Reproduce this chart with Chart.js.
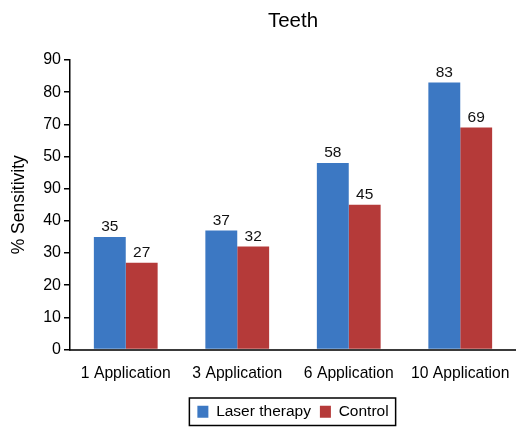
<!DOCTYPE html>
<html lang="en">
<head>
    <meta charset="UTF-8">
    <title>Teeth</title>
    <script src="https://cdn.jsdelivr.net/npm/chart.js"></script>
    <style>
        body {
            margin: 0;
            background-color: white;
        }
        #chartContainer {
            width: 516px;
            height: 430px;
        }
    </style>
</head>
<body>

<div id="chartContainer">
    <canvas id="teethChart" width="516" height="430"></canvas>
</div>

<script>
    const categories = ['1 Application', '3 Application', '6 Application', '10 Application'];
    const laserValues = [35, 37, 58, 83];
    const controlValues = [27, 32, 45, 69];
    // tick labels exactly as printed on the original figure
    const yTickLabels = ['0', '10', '20', '30', '40', '90', '50', '70', '80', '90'];

    const FONT = '"Liberation Sans", Arial, sans-serif';

    // numbers above the bars
    const valueLabels = {
        id: 'valueLabels',
        afterDatasetsDraw(chart) {
            const ctx = chart.ctx;
            ctx.save();
            ctx.font = '15.5px ' + FONT;
            ctx.fillStyle = '#111';
            ctx.textAlign = 'center';
            ctx.textBaseline = 'bottom';
            chart.data.datasets.forEach((ds, i) => {
                chart.getDatasetMeta(i).data.forEach((bar, j) => {
                    ctx.fillText(ds.data[j], bar.x, bar.y - 2);
                });
            });
            ctx.restore();
        }
    };

    // box round the legend
    const legendBorder = {
        id: 'legendBorder',
        afterDraw(chart) {
            const boxes = chart.legend.legendHitBoxes;
            if (!boxes || !boxes.length) return;
            let left = Infinity, right = -Infinity, top = Infinity, bottom = -Infinity;
            boxes.forEach(b => {
                left = Math.min(left, b.left);
                right = Math.max(right, b.left + b.width);
                top = Math.min(top, b.top);
                bottom = Math.max(bottom, b.top + b.height);
            });
            const ctx = chart.ctx;
            ctx.save();
            ctx.strokeStyle = '#000';
            ctx.lineWidth = 1.5;
            ctx.strokeRect(left - 8, top - 6, right - left + 15, bottom - top + 12);
            ctx.restore();
        }
    };

    new Chart(document.getElementById('teethChart'), {
        type: 'bar',
        data: {
            labels: categories,
            datasets: [
                {
                    label: 'Laser therapy',
                    data: laserValues,
                    backgroundColor: '#3C78C3',
                    barPercentage: 1,
                    categoryPercentage: 0.572
                },
                {
                    label: 'Control',
                    data: controlValues,
                    backgroundColor: '#B53A39',
                    barPercentage: 1,
                    categoryPercentage: 0.572
                }
            ]
        },
        options: {
            responsive: false,
            animation: false,
            layout: { padding: { left: 0, right: -5, top: 0, bottom: 0.5 } },
            plugins: {
                title: {
                    display: true,
                    fullSize: false,
                    text: 'Teeth',
                    color: '#000',
                    font: { family: FONT, size: 20.5, weight: 'normal' },
                    padding: { top: 9, bottom: 26.4 }
                },
                legend: {
                    position: 'bottom',
                    fullSize: false,
                    labels: {
                        color: '#000',
                        font: { family: FONT, size: 15.5 },
                        boxWidth: 11,
                        boxHeight: 12,
                        padding: 9
                    }
                },
                tooltip: { enabled: false }
            },
            scales: {
                x: {
                    grid: {
                        display: true,
                        drawOnChartArea: false,
                        drawTicks: true,
                        tickLength: 15,
                        color: 'rgba(0,0,0,0)'
                    },
                    border: { display: true, color: '#3a3a3a', width: 2 },
                    ticks: {
                        color: '#000',
                        font: { family: FONT, size: 15.7 },
                        padding: 0,
                        maxRotation: 0
                    },
                    afterFit(scale) { scale.height = 45.5; }
                },
                y: {
                    min: 0,
                    max: 90,
                    grid: {
                        drawOnChartArea: false,
                        drawTicks: true,
                        tickLength: 6,
                        color: '#000',
                        lineWidth: 1.5
                    },
                    border: { display: true, color: '#000', width: 1.5 },
                    ticks: {
                        stepSize: 10,
                        color: '#000',
                        font: { family: FONT, size: 16 },
                        padding: 3,
                        callback: (value, index) => yTickLabels[index]
                    },
                    title: {
                        display: true,
                        text: '% Sensitivity',
                        color: '#000',
                        font: { family: FONT, size: 17.5 },
                        padding: { top: 9, bottom: 0 }
                    },
                    afterFit(scale) { scale.width = 70; }
                }
            }
        },
        plugins: [valueLabels, legendBorder]
    });
</script>

</body>
</html>
